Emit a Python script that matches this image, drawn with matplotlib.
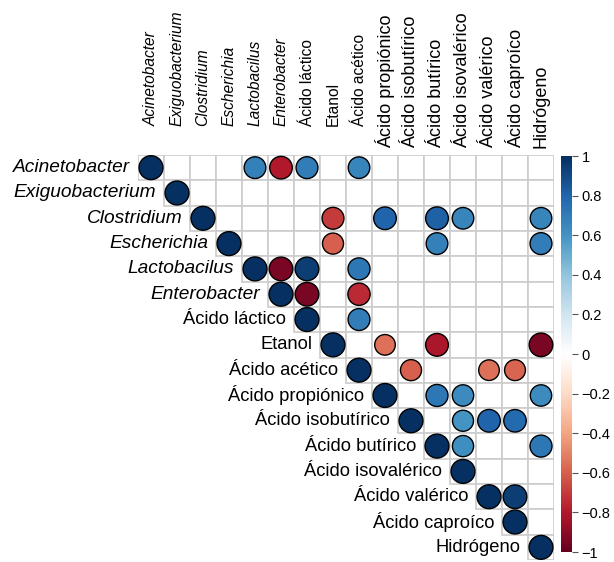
import numpy as np
import matplotlib.pyplot as plt
from matplotlib.colors import LinearSegmentedColormap, Normalize
from matplotlib.patches import Rectangle

plt.rcParams["font.family"] = ["Liberation Sans", "DejaVu Sans"]

names = [
    "Acinetobacter", "Exiguobacterium", "Clostridium", "Escherichia",
    "Lactobacilus", "Enterobacter", "Ácido láctico", "Etanol",
    "Ácido acético", "Ácido propiónico", "Ácido isobutírico", "Ácido butírico",
    "Ácido isovalérico", "Ácido valérico", "Ácido caproíco", "Hidrógeno",
]
italic_names = names[:6]

# upper triangle, row i holds columns i..15 (None = blank cell)
N = None
corr_rows = [
    [1, N, N, N, 0.68, -0.8, 0.7, N, 0.66, N, N, N, N, N, N, N],
    [1, N, N, N, N, N, N, N, N, N, N, N, N, N, N],
    [1, N, N, N, N, -0.7, N, 0.8, N, 0.82, 0.66, N, N, 0.66],
    [1, N, N, N, -0.6, N, N, N, 0.68, N, N, N, 0.7],
    [1, -0.95, 0.95, N, 0.72, N, N, N, N, N, N, N],
    [1, -0.95, N, -0.75, N, N, N, N, N, N, N],
    [1, N, 0.7, N, N, N, N, N, N, N],
    [1, N, -0.55, N, -0.82, N, N, N, -0.95],
    [1, N, -0.6, N, N, -0.55, -0.58, N],
    [1, N, 0.72, 0.64, N, N, 0.64],
    [1, N, 0.6, 0.8, 0.78, N],
    [1, 0.62, N, N, 0.72],
    [1, N, N, N],
    [1, 0.95, N],
    [1, N],
    [1],
]

cbar_ticks = [-1, -0.8, -0.6, -0.4, -0.2, 0, 0.2, 0.4, 0.6, 0.8, 1]

cmap = LinearSegmentedColormap.from_list("corr", [
    "#67001F", "#B2182B", "#D6604D", "#F4A582", "#FDDBC7", "#FFFFFF",
    "#D1E5F0", "#92C5DE", "#4393C3", "#2166AC", "#053061"])
norm = Normalize(-1, 1)

W, H = 614, 562
fig = plt.figure(figsize=(W / 100, H / 100), dpi=100)
ax = fig.add_axes([138 / W, 2 / H, 416 / W, 405 / H])
n = len(names)
ax.set_xlim(0, n)
ax.set_ylim(n, 0)
ax.axis("off")

# grid cells
for i in range(n):
    for j in range(i, n):
        ax.add_patch(Rectangle((j, i), 1, 1, facecolor="white",
                               edgecolor="#CCCCCC", lw=1.2, zorder=1))

xs, ys, vals = [], [], []
for i, row in enumerate(corr_rows):
    for k, v in enumerate(row):
        if v is not None:
            xs.append(i + k + 0.5)
            ys.append(i + 0.5)
            vals.append(v)
vals = np.array(vals)
diam = 0.92 * 26 * np.abs(vals) ** 0.25  # px
ax.scatter(xs, ys, s=(diam * 0.72) ** 2, c=vals, cmap=cmap, norm=norm,
           edgecolors="black", linewidths=1.0, zorder=3, clip_on=False)

# row labels at the diagonal
for i, name in enumerate(names):
    if name in italic_names:
        style, fs = "italic", 13.8
    else:
        style, fs = "normal", 13.2
    ax.text(i - 0.3, i + 0.5, name, ha="right", va="center", fontsize=fs,
            style=style, color="black")

# column labels on top
trans = ax.get_xaxis_transform()
for j, name in enumerate(names):
    style = "italic" if name in italic_names else "normal"
    if j < 9:
        y0, fs = 1 + 29 / 405, 11.2
    else:
        y0, fs = 1 + 7 / 405, 13
    ax.text(j + 0.5, y0, name, rotation=90, ha="center", va="bottom",
            fontsize=fs, style=style, color="black", transform=trans)

# colorbar
cax = fig.add_axes([561 / W, 10 / H, 11 / W, 396 / H])
sm = plt.cm.ScalarMappable(norm=norm, cmap=cmap)
cb = fig.colorbar(sm, cax=cax, ticks=cbar_ticks)
cb.outline.set_visible(False)
cb.ax.set_yticklabels([f"{t:g}".replace("-", "\u2212") for t in cbar_ticks])
cb.ax.tick_params(labelsize=10.5, length=4, width=0.8, color="#555555", pad=3)

fig.savefig("out.png", dpi=100)
